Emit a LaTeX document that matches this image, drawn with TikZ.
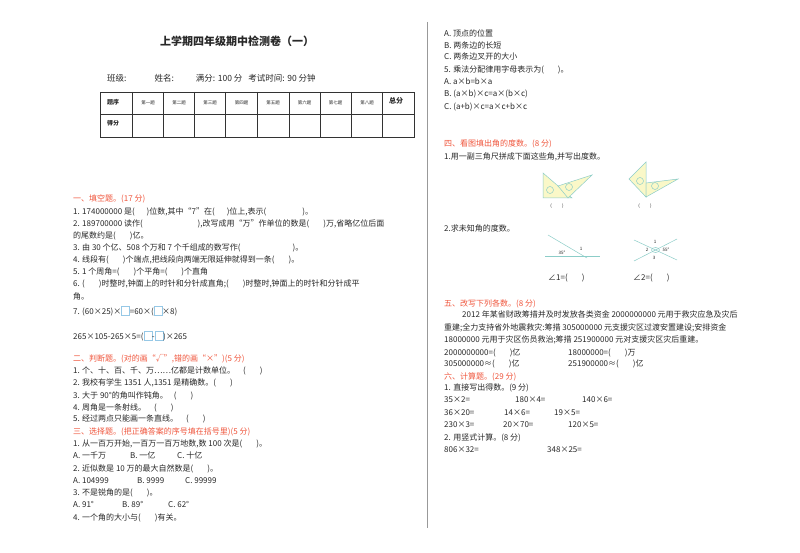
\documentclass[tikz,border=0pt]{standalone}
\usepackage{fontspec}
\setmainfont{Noto Sans CJK SC}
\definecolor{hd}{RGB}{240,85,60}
\definecolor{tx}{RGB}{40,40,40}
\definecolor{bx}{RGB}{150,200,230}
\definecolor{tri}{RGB}{250,248,200}
\definecolor{ln}{RGB}{140,205,200}
\newcommand{\gp}[1]{\hspace*{#1pt}}
\newcommand{\bxx}{\tikz[baseline=0pt]\draw[bx,line width=0.4pt](0,-1pt) rectangle (8pt,8pt);}
\begin{document}
\begin{tikzpicture}[x=1pt,y=-1pt,
  t/.style={anchor=base west,inner sep=0pt,text=tx,font=\fontsize{8}{9}\selectfont},
  h/.style={t,text=hd},
  sm/.style={inner sep=0pt,font=\fontsize{4.5}{5}\selectfont,text=tx},
  tbl/.style={draw=black!80,line width=0.6pt},
  fig/.style={draw=ln,line width=0.5pt}]
\fill[white] (0,0) rectangle (800,553);
\useasboundingbox (0,0) rectangle (800,553);
\draw[black!40,line width=0.5pt] (427,22) -- (427,528);
% title
\node[t,anchor=base,font=\fontsize{11}{12}\selectfont\bfseries] (title) at (237,46) {上学期四年级期中检测卷（一）};
\node[t,font=\fontsize{8.5}{9}\selectfont] (info) at (107,82) {班级:\gp{28}姓名:\gp{22}满分: 100 分\gp{6}考试时间: 90 分钟};
% table
\draw[tbl] (100,92) rectangle (414,137);
\draw[tbl] (100,114) -- (414,114);
\foreach \x in {132.7,163.3,194.3,225.7,257.3,289,320,351,382.7}{\draw[tbl] (\x,92) -- (\x,137);}
\node[t,font=\fontsize{6}{7}\selectfont\bfseries] (c0) at (107,105) {题序};
\node[t,font=\fontsize{6}{7}\selectfont\bfseries] (r1) at (107,126) {得分};
\node[t,font=\fontsize{7}{8}\selectfont\bfseries] (c9) at (389,104) {总分};
\foreach \x/\s in {148/第一题,179/第二题,210/第三题,241.5/第四题,273/第五题,304.5/第六题,335.5/第七题,367/第八题}{\node[sm] at (\x,103) {\s};}
% section 1
\node[h] (s1) at (73,202) {一、填空题。(17 分)};
\node[t] at (73,215) {1. 174000000 是(\gp{12})位数,其中“7”在(\gp{12})位上,表示(\gp{36})。};
\node[t] at (73,227) {2. 189700000 读作(\gp{55}),改写成用“万”作单位的数是(\gp{14})万,省略亿位后面};
\node[t] at (73,239) {的尾数约是(\gp{14})亿。};
\node[t] at (73,251) {3. 由 30 个亿、508 个万和 7 个千组成的数写作(\gp{52})。};
\node[t] at (73,263) {4. 线段有(\gp{14})个端点,把线段向两端无限延伸就得到一条(\gp{14})。};
\node[t] at (73,275) {5. 1 个周角=(\gp{14})个平角=(\gp{14})个直角};
\node[t] at (73,287) {6. (\gp{14})时整时,钟面上的时针和分针成直角;(\gp{14})时整时,钟面上的时针和分针成平};
\node[t] at (73,299) {角。};
\node[t] at (73,314) {7. (60×25)×\bxx=60×(\bxx×8)};
\node[t] at (73,339) {265×105-265×5=(\bxx-\bxx)×265};
% section 2
\node[h] (s2) at (73,361) {二、判断题。(对的画“√”,错的画“×”)(5 分)};
\node[t] at (73,373) {1. 个、十、百、千、万……亿都是计数单位。\gp{8}(\gp{14})};
\node[t] at (73,385) {2. 我校有学生 1351 人,1351 是精确数。(\gp{14})};
\node[t] at (73,398) {3. 大于 90°的角叫作钝角。\gp{6}(\gp{14})};
\node[t] at (73,410) {4. 周角是一条射线。\gp{8}(\gp{14})};
\node[t] at (73,421) {5. 经过两点只能画一条直线。\gp{8}(\gp{14})};
\node[h] (s3) at (73,434) {三、选择题。(把正确答案的序号填在括号里)(5 分)};
\node[t] at (73,446) {1. 从一百万开始,一百万一百万地数,数 100 次是(\gp{14})。};
\node[t] at (73,458) {A. 一千万}; \node[t] at (130,458) {B. 一亿}; \node[t] at (177,458) {C. 十亿};
\node[t] at (73,471) {2. 近似数是 10 万的最大自然数是(\gp{14})。};
\node[t] at (73,483) {A. 104999}; \node[t] at (137,483) {B. 9999}; \node[t] at (185,483) {C. 99999};
\node[t] at (73,495) {3. 不是锐角的是(\gp{14})。};
\node[t] at (73,507) {A. 91°}; \node[t] at (122,507) {B. 89°}; \node[t] at (168,507) {C. 62°};
\node[t] at (73,520) {4. 一个角的大小与(\gp{14})有关。};
% right column
\node[t] at (444,37) {A. 顶点的位置};
\node[t] at (444,49) {B. 两条边的长短};
\node[t] at (444,60) {C. 两条边叉开的大小};
\node[t] at (444,73) {5. 乘法分配律用字母表示为(\gp{14})。};
\node[t] at (444,85) {A. \textit{a}×\textit{b}=\textit{b}×\textit{a}};
\node[t] at (444,97) {B. (\textit{a}×\textit{b})×\textit{c}=\textit{a}×(\textit{b}×\textit{c})};
\node[t] at (444,110) {C. (\textit{a}+\textit{b})×\textit{c}=\textit{a}×\textit{c}+\textit{b}×\textit{c}};
\node[h] (s4) at (444,147) {四、看图填出角的度数。(8 分)};
\node[t] at (444,160) {1.用一副三角尺拼成下面这些角,并写出度数。};
% figure 1
\filldraw[fig,fill=tri] (543,173) -- (543,198) -- (572,198) -- cycle;
\filldraw[fig,fill=tri] (558,186) -- (592,175) -- (568,198) -- cycle;
\draw[fig] (550,190) circle (3.5); \draw[fig] (569,187) circle (3.5);
\node[sm] at (557,206) {(\gp{10})};
% figure 2
\filldraw[fig,fill=tri] (629,179) -- (646,162) -- (646,197) -- cycle;
\filldraw[fig,fill=tri] (646,183) -- (678,179) -- (646,197) -- cycle;
\draw[fig] (640,181) circle (3.5); \draw[fig] (655,186) circle (3.5);
\node[sm] at (645,206) {(\gp{10})};
\node[t] at (444,232) {2.求未知角的度数。};
% angle figures
\draw[fig] (545,256) -- (600,256);
\draw[fig] (548,235) -- (587,258);
\node[sm] at (562,253) {35°}; \node[sm] at (581,249) {1};
\draw[fig] (634,240) -- (677,260); \draw[fig] (634,261) -- (677,239);
\draw[fig] (655.5,250) ellipse (4 and 2.5);
\node[sm] at (655,242) {1}; \node[sm] at (647,250) {2}; \node[sm] at (666,250) {55°}; \node[sm] at (654,258) {3};
\node[t] at (548,280) {∠1=(\gp{14})};
\node[t] at (633,280) {∠2=(\gp{14})};
% section 5
\node[h] (s5) at (444,306) {五、改写下列各数。(8 分)};
\node[t] at (462,317) {2012 年某省财政筹措并及时发放各类资金 2000000000 元用于救灾应急及灾后};
\node[t] at (444,330) {重建;全力支持省外地震救灾:筹措 305000000 元支援灾区过渡安置建设;安排资金};
\node[t] at (444,342) {18000000 元用于灾区伤员救治;筹措 251900000 元对支援灾区灾后重建。};
\node[t] at (444,355) {2000000000=(\gp{14})亿}; \node[t] at (568,355) {18000000=(\gp{14})万};
\node[t] at (444,366) {305000000≈(\gp{14})亿}; \node[t] at (568,366) {251900000≈(\gp{14})亿};
\node[h] (s6) at (444,379) {六、计算题。(29 分)};
\node[t] at (444,390) {1. 直接写出得数。(9 分)};
\node[t] at (444,402) {35×2=}; \node[t] at (515,402) {180×4=}; \node[t] at (582,402) {140×6=};
\node[t] at (444,415) {36×20=}; \node[t] at (504,415) {14×6=}; \node[t] at (554,415) {19×5=};
\node[t] at (444,427) {230×3=}; \node[t] at (503,427) {20×70=}; \node[t] at (568,427) {120×5=};
\node[t] at (444,440) {2. 用竖式计算。(8 分)};
\node[t] at (444,452) {806×32=}; \node[t] at (547,452) {348×25=};
\end{tikzpicture}
\end{document}
